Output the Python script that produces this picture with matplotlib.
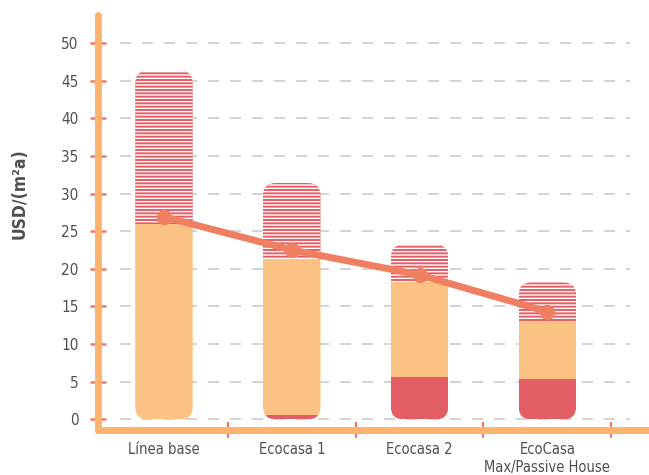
import numpy as np
import matplotlib.pyplot as plt
from matplotlib.patches import FancyBboxPatch
from matplotlib.transforms import IdentityTransform

# --- DATA ---
categories = ["Línea base", "Ecocasa 1", "Ecocasa 2", "EcoCasa\nMax/Passive House"]
red_part = [0.0, 0.6, 5.6, 5.4]          # bottom (solid red)
orange_part = [25.9, 20.7, 12.6, 7.7]    # middle (light orange)
hatched_part = [20.4, 10.1, 5.0, 5.1]    # top (striped red)
line_values = [26.9, 22.5, 19.2, 14.3]
y_ticks = [0, 5, 10, 15, 20, 25, 30, 35, 40, 45, 50]

# --- STYLE ---
axis_orange = "#FDB36E"
bar_orange = "#FBC283"
bar_red = "#E35D65"
line_col = "#F07F62"
tick_col = "#F07C5A"
text_col = "#4F4F4F"

plt.rcParams['font.family'] = ['DejaVu Sans']
plt.rcParams['font.stretch'] = 'condensed'
plt.rcParams['hatch.linewidth'] = 1.0

fig = plt.figure(figsize=(6.49, 4.75), dpi=100)
ax = fig.add_axes([98 / 649, 1 - 430 / 475, 1 - 98 / 649, 415 / 475])
ax.set_xlim(-0.516, 3.795)
ax.set_ylim(-1.4, 53.7)

x = np.arange(len(categories))
red = np.array(red_part)
orange = np.array(orange_part)
hatched = np.array(hatched_part)
width = 0.45

# grid
ax.hlines(y_ticks, -0.34, 3.65, colors="#C8C8C8", linewidth=1.1,
          linestyles=(0, (7.2, 7.2)), zorder=1)

b1 = ax.bar(x, red, width, color=bar_red, linewidth=0, zorder=2)
b2 = ax.bar(x, orange, width, bottom=red, color=bar_orange, linewidth=0, zorder=2)
b3 = ax.bar(x, hatched, width, bottom=red + orange, color=bar_red,
            edgecolor="white", linewidth=0, hatch="-----", zorder=2)

# rounded clip for each stacked bar (built in pixel space)
total = red + orange + hatched
for i in range(len(categories)):
    p0 = ax.transData.transform((x[i] - width / 2, 0))
    p1 = ax.transData.transform((x[i] + width / 2, total[i]))
    clip = FancyBboxPatch(tuple(p0), p1[0] - p0[0], p1[1] - p0[1],
                          boxstyle="round,pad=0,rounding_size=13",
                          transform=IdentityTransform())
    for bars in (b1, b2, b3):
        bars[i].set_clip_path(clip)

# line
ax.plot(x, line_values, color=line_col, linewidth=5, marker="o",
        markersize=10, solid_capstyle="round", zorder=4)

# spines
for s in ["top", "right"]:
    ax.spines[s].set_visible(False)
for s in ["left", "bottom"]:
    ax.spines[s].set_color(axis_orange)
    ax.spines[s].set_linewidth(5)
    ax.spines[s].set_capstyle("round")
    ax.spines[s].set_zorder(3)

ax.set_yticks(y_ticks)
ax.set_yticklabels([str(v) for v in y_ticks])
ax.tick_params(axis="y", direction="inout", length=12, width=1.8,
               color=tick_col, labelcolor=text_col, labelsize=11, pad=8)

ax.set_xticks(x)
ax.set_xticklabels(categories, fontweight="medium")
ax.tick_params(axis="x", which="major", length=0, labelcolor=text_col,
               labelsize=10.5, pad=9)
ax.set_xticks(np.arange(len(categories)) + 0.5, minor=True)
ax.tick_params(axis="x", which="minor", direction="inout", length=11,
               width=1.6, color=tick_col)

ax.set_ylabel("USD/(m²a)", color=text_col, fontsize=12.5, fontweight="bold")
ax.yaxis.set_label_coords(-0.125, 0.57)

fig.savefig("out.png", dpi=100)
